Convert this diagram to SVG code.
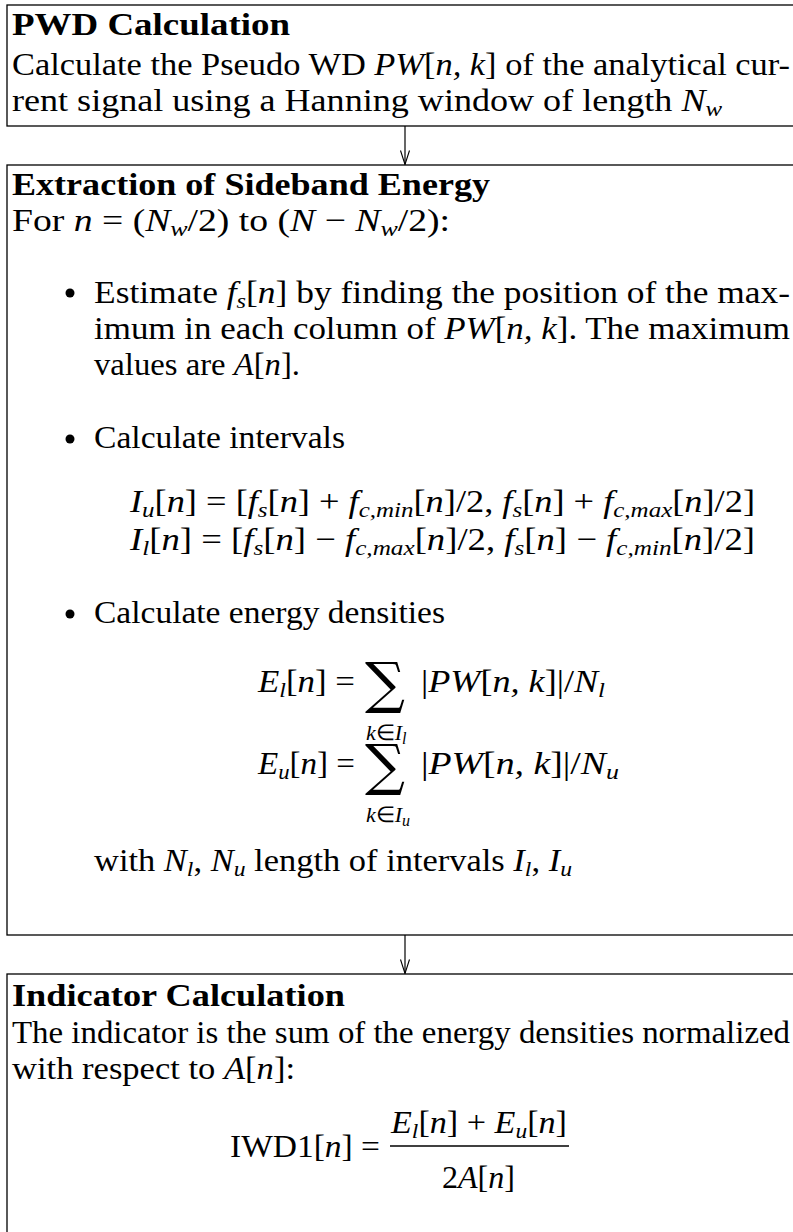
<svg xmlns="http://www.w3.org/2000/svg" width="793" height="1232" viewBox="0 0 793 1232">
<defs>
<style>
.t{font-family:"Liberation Serif","Times New Roman",serif;font-size:32px;fill:#000}
.b{font-weight:bold}
.i{font-style:italic}
.s{font-size:22px}
.ss{font-size:16px}
.u{font-style:normal}
.box{fill:#fff;stroke:#000;stroke-width:1.3}
.conn{stroke:#000;stroke-width:1.2;fill:none}
.op{font-family:"DejaVu Serif",serif;fill:#000}
</style>
<marker id="arr" viewBox="-15 -6 17 12" markerWidth="17" markerHeight="12" refX="0" refY="0" orient="auto" markerUnits="userSpaceOnUse">
<path d="M-14,-4.5 L0,0 L-14,4.5" fill="none" stroke="#000" stroke-width="1.1"/>
</marker>
</defs>
<rect width="793" height="1232" fill="#fff"/>

<g id="connectors">
<line class="conn" x1="405" y1="126" x2="405" y2="164.5" marker-end="url(#arr)"/>
<line class="conn" x1="405" y1="935" x2="405" y2="973.5" marker-end="url(#arr)"/>
</g>

<g id="node-pwd">
<rect class="box" x="7" y="5" width="800" height="121"/>
<text class="t b" x="12" y="35" textLength="278" lengthAdjust="spacingAndGlyphs">PWD Calculation</text>
<text class="t" x="12" y="75" textLength="778" lengthAdjust="spacingAndGlyphs">Calculate the Pseudo WD <tspan class="i">PW</tspan>[<tspan class="i">n, k</tspan>] of the analytical cur-</text>
<text class="t" x="12" y="111" textLength="710" lengthAdjust="spacingAndGlyphs">rent signal using a Hanning window of length <tspan class="i">N</tspan><tspan class="i s" dy="5">w</tspan></text>
</g>

<g id="node-extraction">
<rect class="box" x="7" y="165" width="800" height="770"/>
<text class="t b" x="12" y="195" textLength="478" lengthAdjust="spacingAndGlyphs">Extraction of Sideband Energy</text>
<text class="t" x="12" y="231" textLength="438" lengthAdjust="spacingAndGlyphs">For <tspan class="i">n</tspan> = (<tspan class="i">N</tspan><tspan class="i s" dy="5">w</tspan><tspan dy="-5">/2) to (</tspan><tspan class="i">N</tspan> − <tspan class="i">N</tspan><tspan class="i s" dy="5">w</tspan><tspan dy="-5">/2):</tspan></text>

<circle cx="70" cy="293" r="4.5" fill="#000"/>
<text class="t" x="94" y="303" textLength="696" lengthAdjust="spacingAndGlyphs">Estimate <tspan class="i">f</tspan><tspan class="i s" dy="5">s</tspan><tspan dy="-5">[</tspan><tspan class="i">n</tspan>] by finding the position of the max-</text>
<text class="t" x="94" y="339" textLength="696" lengthAdjust="spacingAndGlyphs">imum in each column of <tspan class="i">PW</tspan>[<tspan class="i">n, k</tspan>]. The maximum</text>
<text class="t" x="94" y="375" textLength="206" lengthAdjust="spacingAndGlyphs">values are <tspan class="i">A</tspan>[<tspan class="i">n</tspan>].</text>

<circle cx="70" cy="439" r="4.5" fill="#000"/>
<text class="t" x="94" y="448" textLength="251" lengthAdjust="spacingAndGlyphs">Calculate intervals</text>

<text class="t" x="130" y="512" textLength="625" lengthAdjust="spacingAndGlyphs"><tspan class="i">I</tspan><tspan class="i s" dy="5">u</tspan><tspan dy="-5">[</tspan><tspan class="i">n</tspan>] = [<tspan class="i">f</tspan><tspan class="i s" dy="5">s</tspan><tspan dy="-5">[</tspan><tspan class="i">n</tspan>] + <tspan class="i">f</tspan><tspan class="i s" dy="5">c,min</tspan><tspan dy="-5">[</tspan><tspan class="i">n</tspan>]/2, <tspan class="i">f</tspan><tspan class="i s" dy="5">s</tspan><tspan dy="-5">[</tspan><tspan class="i">n</tspan>] + <tspan class="i">f</tspan><tspan class="i s" dy="5">c,max</tspan><tspan dy="-5">[</tspan><tspan class="i">n</tspan>]/2]</text>
<text class="t" x="130" y="550" textLength="625" lengthAdjust="spacingAndGlyphs"><tspan class="i">I</tspan><tspan class="i s" dy="5">l</tspan><tspan dy="-5">[</tspan><tspan class="i">n</tspan>] = [<tspan class="i">f</tspan><tspan class="i s" dy="5">s</tspan><tspan dy="-5">[</tspan><tspan class="i">n</tspan>] − <tspan class="i">f</tspan><tspan class="i s" dy="5">c,max</tspan><tspan dy="-5">[</tspan><tspan class="i">n</tspan>]/2, <tspan class="i">f</tspan><tspan class="i s" dy="5">s</tspan><tspan dy="-5">[</tspan><tspan class="i">n</tspan>] − <tspan class="i">f</tspan><tspan class="i s" dy="5">c,min</tspan><tspan dy="-5">[</tspan><tspan class="i">n</tspan>]/2]</text>

<circle cx="70" cy="614" r="4.5" fill="#000"/>
<text class="t" x="94" y="623" textLength="351" lengthAdjust="spacingAndGlyphs">Calculate energy densities</text>

<text class="t" x="258" y="692" textLength="97" lengthAdjust="spacingAndGlyphs"><tspan class="i">E</tspan><tspan class="i s" dy="5">l</tspan><tspan dy="-5">[</tspan><tspan class="i">n</tspan>] =</text>
<text class="op" x="365" y="702" font-size="56">∑</text>
<text class="t" x="421" y="692" textLength="184" lengthAdjust="spacingAndGlyphs">|<tspan class="i">PW</tspan>[<tspan class="i">n, k</tspan>]|/<tspan class="i">N</tspan><tspan class="i s" dy="5">l</tspan></text>
<text class="t s i" x="366" y="740">k<tspan class="u">∈</tspan>I<tspan class="ss" dy="4">l</tspan></text>

<text class="t" x="258" y="774" textLength="97" lengthAdjust="spacingAndGlyphs"><tspan class="i">E</tspan><tspan class="i s" dy="5">u</tspan><tspan dy="-5">[</tspan><tspan class="i">n</tspan>] =</text>
<text class="op" x="365" y="784" font-size="56">∑</text>
<text class="t" x="421" y="774" textLength="198" lengthAdjust="spacingAndGlyphs">|<tspan class="i">PW</tspan>[<tspan class="i">n, k</tspan>]|/<tspan class="i">N</tspan><tspan class="i s" dy="5">u</tspan></text>
<text class="t s i" x="366" y="822">k<tspan class="u">∈</tspan>I<tspan class="ss" dy="4">u</tspan></text>

<text class="t" x="94" y="871" textLength="478" lengthAdjust="spacingAndGlyphs">with <tspan class="i">N</tspan><tspan class="i s" dy="5">l</tspan><tspan dy="-5">, </tspan><tspan class="i">N</tspan><tspan class="i s" dy="5">u</tspan><tspan dy="-5"> length of intervals </tspan><tspan class="i">I</tspan><tspan class="i s" dy="5">l</tspan><tspan dy="-5">, </tspan><tspan class="i">I</tspan><tspan class="i s" dy="5">u</tspan></text>
</g>

<g id="node-indicator">
<rect class="box" x="7" y="974" width="800" height="270"/>
<text class="t b" x="12" y="1006" textLength="333" lengthAdjust="spacingAndGlyphs">Indicator Calculation</text>
<text class="t" x="12" y="1043" textLength="778" lengthAdjust="spacingAndGlyphs">The indicator is the sum of the energy densities normalized</text>
<text class="t" x="12" y="1079" textLength="283" lengthAdjust="spacingAndGlyphs">with respect to <tspan class="i">A</tspan>[<tspan class="i">n</tspan>]:</text>

<text class="t" x="230" y="1157" textLength="150" lengthAdjust="spacingAndGlyphs">IWD1[<tspan class="i">n</tspan>] =</text>
<text class="t" x="391" y="1133" textLength="176" lengthAdjust="spacingAndGlyphs"><tspan class="i">E</tspan><tspan class="i s" dy="5">l</tspan><tspan dy="-5">[</tspan><tspan class="i">n</tspan>] + <tspan class="i">E</tspan><tspan class="i s" dy="5">u</tspan><tspan dy="-5">[</tspan><tspan class="i">n</tspan>]</text>
<line x1="390" y1="1146" x2="569" y2="1146" stroke="#000" stroke-width="1.3"/>
<text class="t" x="442" y="1188" textLength="73" lengthAdjust="spacingAndGlyphs">2<tspan class="i">A</tspan>[<tspan class="i">n</tspan>]</text>
</g>
</svg>
